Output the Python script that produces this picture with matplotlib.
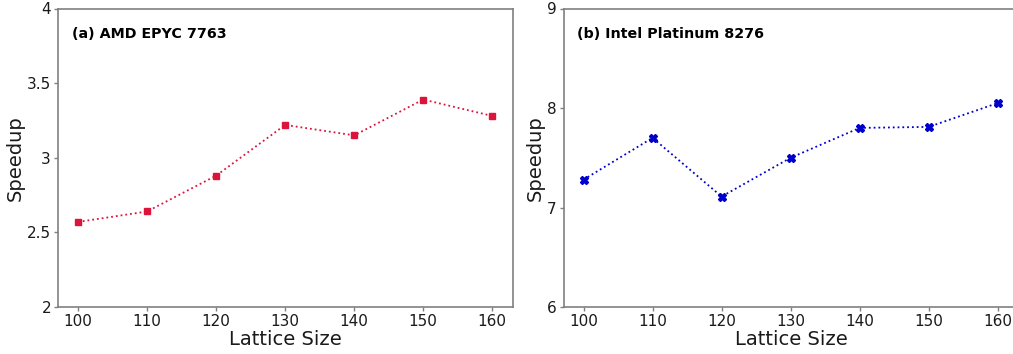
import matplotlib
matplotlib.use("Agg")
import matplotlib.pyplot as plt
from matplotlib.ticker import FuncFormatter

lattice_sizes = [100, 110, 120, 130, 140, 150, 160]
amd_speedup = [2.57, 2.64, 2.88, 3.22, 3.15, 3.39, 3.28]
intel_speedup = [7.28, 7.70, 7.11, 7.50, 7.80, 7.81, 8.05]
amd_label = "(a) AMD EPYC 7763"
intel_label = "(b) Intel Platinum 8276"
amd_yticks = [2, 2.5, 3, 3.5, 4]
intel_yticks = [6, 7, 8, 9]
xticks = [100, 110, 120, 130, 140, 150, 160]

fig = plt.figure(figsize=(10.13, 3.54), dpi=100)
W, H = 1013, 354
ax1 = fig.add_axes([58/W, 1 - 307/H, 455/W, 298.5/H])
ax2 = fig.add_axes([563.5/W, 1 - 307/H, 455/W, 298.5/H])

fmt = FuncFormatter(lambda v, p: f"{v:g}")

def style(ax, ylim, yticks, label):
    ax.set_xlim(97.1, 163.0)
    ax.set_ylim(*ylim)
    ax.set_xticks(xticks)
    ax.set_yticks(yticks)
    ax.yaxis.set_major_formatter(fmt)
    for s in ax.spines.values():
        s.set_color("#808080")
        s.set_linewidth(1.2)
    ax.tick_params(axis="both", length=3, width=1, color="#808080", labelsize=11, pad=2,
                   labelcolor="#1a1a1a")
    ax.set_xlabel("Lattice Size", fontsize=14, labelpad=1, color="#1a1a1a")
    ax.set_ylabel("Speedup", fontsize=14, labelpad=1.5, color="#1a1a1a")
    ax.text(0.03, 0.915, label, transform=ax.transAxes, fontsize=10.3,
            fontweight="bold", ha="left", va="center")

ax1.plot(lattice_sizes, amd_speedup, linestyle=":", color="#DC143C", linewidth=1.3,
         marker="s", markersize=5)
style(ax1, (2, 4), amd_yticks, amd_label)

ax2.plot(lattice_sizes, intel_speedup, linestyle=":", color="#0000CD", linewidth=1.3,
         marker="X", markersize=6)
style(ax2, (6, 9), intel_yticks, intel_label)

fig.savefig("out.png", dpi=100)
